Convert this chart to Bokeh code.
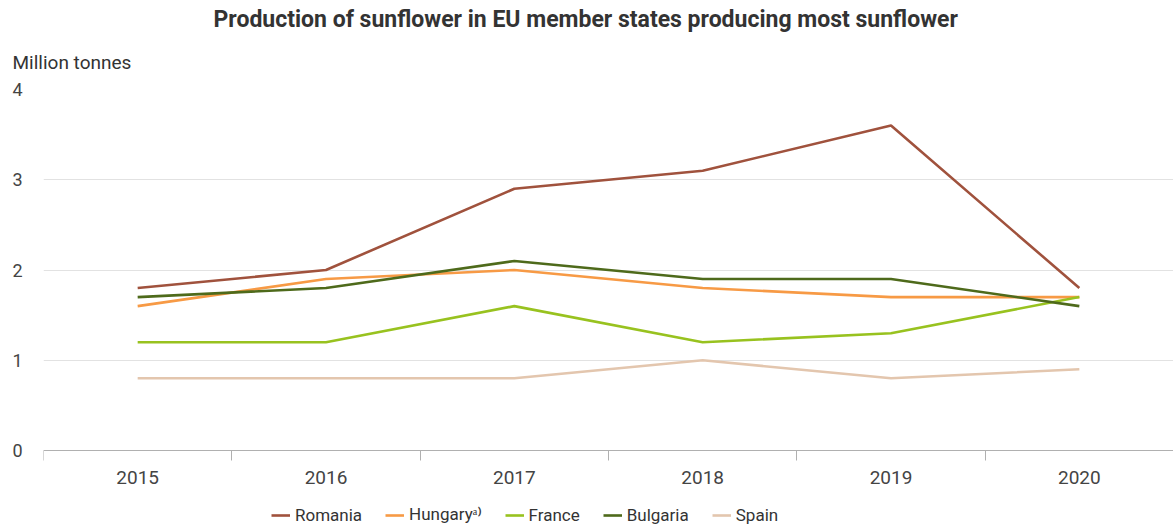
from bokeh.plotting import figure
from bokeh.models import Range1d, FixedTicker, Title, Legend, LegendItem, LinearAxis
from bokeh.embed import file_html
from bokeh.resources import INLINE

years = [2015, 2016, 2017, 2018, 2019, 2020]
romania = [1.8, 2.0, 2.9, 3.1, 3.6, 1.8]
hungary = [1.6, 1.9, 2.0, 1.8, 1.7, 1.7]
france = [1.2, 1.2, 1.6, 1.2, 1.3, 1.7]
bulgaria = [1.7, 1.8, 2.1, 1.9, 1.9, 1.6]
spain = [0.8, 0.8, 0.8, 1.0, 0.8, 0.9]
series_names = ["Romania", "Hungary\u1d43\u207e", "France", "Bulgaria", "Spain"]
series_colors = ["#a0523d", "#f79a45", "#98c21f", "#4e6a1b", "#e3c6ae"]
y_ticks = [0, 1, 2, 3, 4]

FONT = "Roboto"

# y range extends below 0 so the x axis (fixed at 0) and legend sit inside the frame
p = figure(width=1173, height=528, output_backend="svg", toolbar_location=None,
           x_range=Range1d(years[0] - 0.5, years[-1] + 0.5), y_range=Range1d(-0.842, 4),
           x_axis_location=None,
           min_border_left=43, min_border_right=0, min_border_top=89, min_border_bottom=2)
p.outline_line_color = None
p.background_fill_color = "white"
p.border_fill_color = "white"

# titles (subtitle first: nearest to frame)
sub = Title(text="Million tonnes", align="left", offset=-31, standoff=32, text_font=FONT,
            text_font_size="19px", text_font_style="normal", text_color="#333333")
p.add_layout(sub, "above")
main = Title(text="Production of sunflower in EU member states producing most sunflower",
             align="left", offset=170, standoff=0, text_font=FONT, text_font_size="23px",
             text_font_style="bold", text_color="#333333")
p.add_layout(main, "above")

# x axis fixed at y = 0
xa = LinearAxis(fixed_location=0)
xa.ticker = FixedTicker(ticks=years, minor_ticks=[y - 0.5 for y in years] + [years[-1] + 0.5])
xa.major_tick_line_color = None
xa.major_tick_out = 0
xa.major_tick_in = 0
xa.minor_tick_in = 0
xa.minor_tick_out = 10
xa.minor_tick_line_color = "#b0b0b0"
xa.axis_line_color = "#b0b0b0"
xa.major_label_text_font = FONT
xa.major_label_text_font_size = "19px"
xa.major_label_text_color = "#444444"
xa.major_label_standoff = 10
xa.formatter.use_scientific = False
p.add_layout(xa, "below")

ya = p.yaxis[0]
ya.ticker = FixedTicker(ticks=y_ticks)
ya.axis_line_color = None
ya.major_tick_line_color = None
ya.major_tick_out = 0
ya.major_tick_in = 0
ya.minor_tick_line_color = None
ya.major_label_text_font = FONT
ya.major_label_text_font_size = "18px"
ya.major_label_text_color = "#444444"
ya.major_label_standoff = 21

p.xgrid.grid_line_color = None
p.ygrid.ticker = FixedTicker(ticks=y_ticks[1:])
p.ygrid.grid_line_color = "#e2e2e2"
p.ygrid.grid_line_width = 1

items = []
for name, vals, col in zip(series_names, [romania, hungary, france, bulgaria, spain], series_colors):
    r = p.line(years, vals, line_color=col, line_width=2.6)
    items.append(LegendItem(label=name, renderers=[r]))

legend = Legend(items=items, orientation="horizontal", location=(228, 1),
                label_text_font=FONT, label_text_font_size="17px", label_text_color="#333333",
                glyph_width=19, label_standoff=5, spacing=23, padding=0, margin=0,
                border_line_color=None, background_fill_alpha=0)
p.add_layout(legend, "center")

open("out.html", "w").write(file_html(p, INLINE))
